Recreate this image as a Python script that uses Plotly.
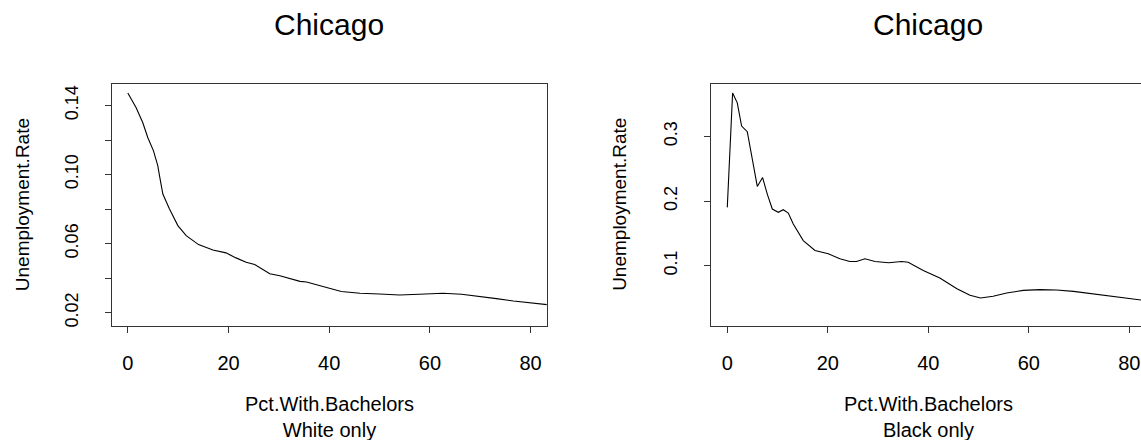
import plotly.graph_objects as go

# ---- data ----
white_x = [0, 1.66, 2.98, 3.98, 5.1, 5.96, 6.3, 6.96, 8.28, 9.94, 11.6, 14.05, 16.9, 19.5,
           21.5, 23.5, 25.2, 26.8, 28.2, 30.2, 32.1, 34.2, 35.5, 38.1, 40.4, 42.4, 46.1,
           50.0, 54.0, 57.9, 62.6, 66.3, 69.9, 73.2, 76.6, 79.9, 83.2, 84.5]
white_y = [0.1473, 0.1387, 0.1300, 0.1213, 0.1137, 0.1050, 0.0992, 0.0887, 0.0800, 0.0704,
           0.0646, 0.0594, 0.0563, 0.0546, 0.0517, 0.0492, 0.0479, 0.0450, 0.0425, 0.0413,
           0.0396, 0.0381, 0.0377, 0.0358, 0.0338, 0.0322, 0.0312, 0.0308, 0.0302, 0.0306,
           0.0312, 0.0306, 0.0294, 0.0281, 0.0267, 0.0256, 0.0246, 0.0242]

black_x = [0, 1.06, 1.99, 2.85, 3.98, 5.04, 5.97, 7.03, 7.96, 8.96, 10.15, 11.14, 12.14,
           13.13, 15.12, 17.45, 20.1, 22.4, 24.4, 25.7, 27.4, 29.4, 32.1, 34.7, 36.0, 39.0,
           42.3, 45.7, 48.3, 50.4, 52.9, 55.6, 58.9, 62.2, 65.5, 68.9, 70.9, 74.2, 77.5,
           80.1, 82.3, 84.0]
black_y = [0.1903, 0.3672, 0.3518, 0.3159, 0.3072, 0.2595, 0.2226, 0.2364, 0.2108, 0.1877,
           0.1826, 0.1867, 0.1815, 0.1646, 0.1390, 0.1236, 0.1185, 0.1108, 0.1067, 0.1067,
           0.1108, 0.1067, 0.1046, 0.1067, 0.1056, 0.0928, 0.0810, 0.0646, 0.0544, 0.0503,
           0.0528, 0.0579, 0.0620, 0.0631, 0.0626, 0.0605, 0.0585, 0.0554, 0.0518, 0.0492,
           0.0467, 0.0455]

x_ticks = [0, 20, 40, 60, 80]
left_y_ticks = [0.02, 0.04, 0.06, 0.08, 0.10, 0.12, 0.14]
left_y_text = ["0.02", "", "0.06", "", "0.10", "", "0.14"]
right_y_ticks = [0.1, 0.2, 0.3]
right_y_text = ["0.1", "0.2", "0.3"]

title_text = "Chicago"
y_label = "Unemployment.Rate"
x_label = "Pct.With.Bachelors"
subtitles = ["White only", "Black only"]

# ---- figure ----
W, H = 1141, 440
FONT = "Liberation Sans, Arial, sans-serif"
LINE = "#333333"

fig = go.Figure()
fig.add_trace(go.Scatter(x=white_x, y=white_y, mode="lines",
                         line=dict(color="black", width=1.1), xaxis="x", yaxis="y",
                         showlegend=False, hoverinfo="skip"))
fig.add_trace(go.Scatter(x=black_x, y=black_y, mode="lines",
                         line=dict(color="black", width=1.1), xaxis="x2", yaxis="y2",
                         showlegend=False, hoverinfo="skip"))

def px(x):
    return x / W

def py(y):
    return 1 - y / H

y0, y1 = py(327.3), py(84.3)

common_x = dict(showgrid=False, zeroline=False, showline=True, linecolor=LINE, linewidth=1,
                ticks="outside", ticklen=6, tickcolor=LINE, tickvals=x_ticks,
                tickfont=dict(family=FONT, size=20, color="black"), ticklabelstandoff=13)
common_y = dict(showgrid=False, zeroline=False, showline=True, linecolor=LINE, linewidth=1,
                ticks="outside", ticklen=6, tickcolor=LINE, tickangle=-90,
                tickfont=dict(family=FONT, size=18, color="black"), ticklabelstandoff=20)

fig.update_layout(
    width=W, height=H, margin=dict(l=0, r=0, t=0, b=0),
    paper_bgcolor="white", plot_bgcolor="white",
    xaxis=dict(domain=[px(111.7), px(546.7)], range=[-3.2, 83.2], anchor="y",
               mirror=True, **common_x),
    yaxis=dict(domain=[y0, y1], range=[0.01233, 0.15252], anchor="x", mirror=True,
               tickvals=left_y_ticks, ticktext=left_y_text, **common_y),
    xaxis2=dict(domain=[px(711.3), 1.0], range=[-3.18, 82.33], anchor="y2",
                mirror=True, **common_x),
    yaxis2=dict(domain=[y0, y1], range=[0.00723, 0.3811], anchor="x2", mirror=False,
                tickvals=right_y_ticks, ticktext=right_y_text, **common_y),
)

annotations = []
for cx, ylab_x, sub in [((111.7 + 546.7) / 2, 23.3, subtitles[0]),
                        ((711.3 + 1145.4) / 2, 620.0, subtitles[1])]:
    annotations.append(dict(x=px(cx), y=py(25), xref="paper", yref="paper",
                            text=title_text, showarrow=False, xanchor="center",
                            yanchor="middle", font=dict(family=FONT, size=30, color="black")))
    annotations.append(dict(x=px(cx), y=py(419), xref="paper", yref="paper",
                            text=x_label + "<br>" + sub, showarrow=False, xanchor="center",
                            yanchor="middle", font=dict(family=FONT, size=20, color="black")))
    annotations.append(dict(x=px(ylab_x), y=py(205.8), xref="paper", yref="paper",
                            text=y_label, textangle=-90, showarrow=False, xanchor="center",
                            yanchor="middle", font=dict(family=FONT, size=19, color="black")))
fig.update_layout(annotations=annotations)

fig.write_html("out.html")
